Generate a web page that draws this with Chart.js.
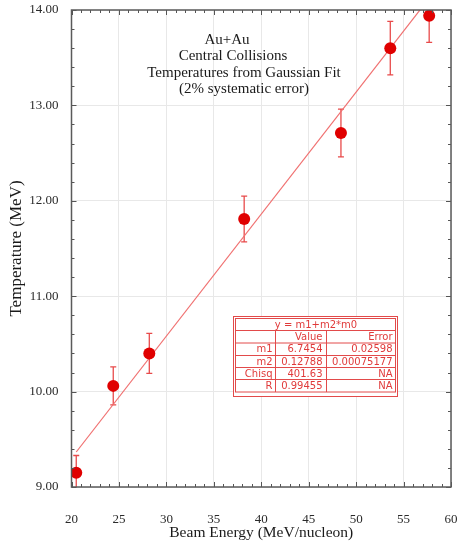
<!DOCTYPE html>
<html>
<head>
<meta charset="utf-8">
<script src="https://cdn.jsdelivr.net/npm/chart.js@4/dist/chart.umd.min.js"></script>
<style>
  html, body { margin: 0; padding: 0; background: #ffffff; }
  #wrap { width: 457px; height: 541px; }
</style>
</head>
<body>
<div id="wrap"><canvas id="c" width="457" height="541"></canvas></div>
<script>
// Measured temperatures for Au+Au central collisions
const energies = [20.5, 24.4, 28.2, 38.2, 48.4, 53.6, 57.7];
const temperatures = [9.15, 10.06, 10.40, 11.81, 12.71, 13.60, 13.94];
const tempErrors = [0.18, 0.20, 0.21, 0.24, 0.25, 0.28, 0.28];

// Linear fit y = m1 + m2*x
const fitM1 = 6.7454;
const fitM2 = 0.12788;
const fitHeader = ['', 'Value', 'Error'];
const fitNames = ['m1', 'm2', 'Chisq', 'R'];
const fitValues = ['6.7454', '0.12788', '401.63', '0.99455'];
const fitErrors = ['0.02598', '0.00075177', 'NA', 'NA'];

const titleLines = ['Au+Au', 'Central Collisions', 'Temperatures from Gaussian Fit', '(2% systematic error)'];

const xRange = [20, 60];
const yRange = [9, 14];

const SERIF = '"Liberation Serif", "Times New Roman", serif';
const SANS = '"DejaVu Sans", Verdana, sans-serif';

const fitLine = [energies[0], xRange[1]].map(x => ({ x: x, y: fitM1 + fitM2 * x }));
const points = energies.map((x, i) => ({ x: x, y: temperatures[i] }));

const errorBars = {
  id: 'errorBars',
  beforeDatasetsDraw(chart) {
    const { ctx, chartArea: a, scales: { x, y } } = chart;
    ctx.save();
    ctx.beginPath();
    ctx.rect(a.left, a.top, a.right - a.left, a.bottom - a.top);
    ctx.clip();
    ctx.strokeStyle = '#e84a4a';
    ctx.lineWidth = 1.3;
    energies.forEach((e, i) => {
      const px = x.getPixelForValue(e);
      const top = y.getPixelForValue(temperatures[i] + tempErrors[i]);
      const bot = y.getPixelForValue(temperatures[i] - tempErrors[i]);
      ctx.beginPath();
      ctx.moveTo(px, top); ctx.lineTo(px, bot);
      ctx.moveTo(px - 3, top); ctx.lineTo(px + 3, top);
      ctx.moveTo(px - 3, bot); ctx.lineTo(px + 3, bot);
      ctx.stroke();
    });
    ctx.restore();
  }
};

const frameAndText = {
  id: 'frameAndText',
  afterDraw(chart) {
    const { ctx, chartArea: a, scales: { x, y } } = chart;
    ctx.save();

    // inward tick marks on all four sides
    ctx.strokeStyle = '#555555';
    ctx.lineWidth = 1;
    ctx.beginPath();
    for (let v = xRange[0]; v <= xRange[1]; v += 1) {
      const px = Math.round(x.getPixelForValue(v)) + 0.5;
      const len = v % 5 === 0 ? 5 : 3;
      ctx.moveTo(px, a.bottom); ctx.lineTo(px, a.bottom - len);
      ctx.moveTo(px, a.top); ctx.lineTo(px, a.top + len);
    }
    for (let k = 0; k <= (yRange[1] - yRange[0]) * 5; k++) {
      const v = yRange[0] + k * 0.2;
      const py = Math.round(y.getPixelForValue(v)) + 0.5;
      const len = k % 5 === 0 ? 5 : 3;
      ctx.moveTo(a.left, py); ctx.lineTo(a.left + len, py);
      ctx.moveTo(a.right, py); ctx.lineTo(a.right - len, py);
    }
    ctx.stroke();

    // plot frame
    ctx.strokeStyle = '#5a5a5a';
    ctx.lineWidth = 1.5;
    ctx.strokeRect(a.left, a.top, a.right - a.left, a.bottom - a.top);

    // caption block
    ctx.fillStyle = '#1a1a1a';
    ctx.font = '15px ' + SERIF;
    ctx.textAlign = 'center';
    ctx.textBaseline = 'middle';
    const cx = [227, 233, 244, 244];
    titleLines.forEach((t, i) => ctx.fillText(t, cx[i], 40 + i * 16.3));

    // fit results table
    const L = 233.5, R = 397.5, T = 316.5, B = 396.5;
    ctx.fillStyle = '#ffffff';
    ctx.fillRect(L, T, R - L, B - T);
    ctx.strokeStyle = '#e24a4a';
    ctx.lineWidth = 1;
    ctx.strokeRect(L, T, R - L, B - T);
    const iL = L + 2, iR = R - 2, iT = T + 2, iB = B - 4.5;
    ctx.strokeRect(iL, iT, iR - iL, iB - iT);
    const rows = [330.5, 343, 355.5, 367.5, 379.5];
    const colA = 275.5, colB = 326.5;
    ctx.beginPath();
    rows.forEach(r => { ctx.moveTo(iL, r); ctx.lineTo(iR, r); });
    ctx.moveTo(colA, rows[0]); ctx.lineTo(colA, iB);
    ctx.moveTo(colB, rows[0]); ctx.lineTo(colB, iB);
    ctx.stroke();

    ctx.fillStyle = '#e03a3a';
    ctx.font = '10px ' + SANS;
    ctx.textAlign = 'center';
    ctx.fillText('y = m1+m2*m0', (iL + iR) / 2 + 0.5, (iT + rows[0]) / 2 + 0.5);
    ctx.textAlign = 'right';
    const bounds = rows.concat([iB]);
    const drawRow = (cells, r) => {
      const cy = (bounds[r] + bounds[r + 1]) / 2 + 0.5;
      ctx.fillText(cells[0], colA - 3, cy);
      ctx.fillText(cells[1], colB - 4, cy);
      ctx.fillText(cells[2], iR - 3, cy);
    };
    drawRow(fitHeader, 0);
    fitNames.forEach((n, i) => drawRow([n, fitValues[i], fitErrors[i]], i + 1));

    ctx.restore();
  }
};

new Chart(document.getElementById('c'), {
  type: 'scatter',
  data: {
    datasets: [
      {
        data: points,
        backgroundColor: '#e00000',
        borderColor: '#e00000',
        pointRadius: 6,
        pointHoverRadius: 6,
        borderWidth: 0,
        order: 1
      },
      {
        type: 'line',
        data: fitLine,
        borderColor: '#f07070',
        borderWidth: 1.2,
        pointRadius: 0,
        fill: false,
        clip: 0,
        order: 2
      }
    ]
  },
  options: {
    responsive: false,
    devicePixelRatio: 1,
    animation: false,
    events: [],
    layout: { padding: { top: 10, right: 6, left: 0, bottom: 0 } },
    plugins: { legend: { display: false }, tooltip: { enabled: false } },
    scales: {
      x: {
        type: 'linear',
        min: xRange[0],
        max: xRange[1],
        afterFit(s) { s.height = 54; s.paddingLeft = 0; s.paddingRight = 0; },
        grid: { color: '#e8e8e8', lineWidth: 1, drawTicks: false },
        border: { display: false },
        ticks: {
          stepSize: 5,
          autoSkip: false,
          maxRotation: 0,
          padding: 25,
          color: '#2a2a2a',
          font: { family: SERIF, size: 13 }
        },
        title: {
          display: true,
          text: 'Beam Energy (MeV/nucleon)',
          color: '#1a1a1a',
          font: { family: SERIF, size: 15.5, lineHeight: 1 },
          padding: { top: 0, bottom: 0.5 }
        }
      },
      y: {
        type: 'linear',
        min: yRange[0],
        max: yRange[1],
        afterFit(s) { s.width = 71.5; s.paddingTop = 0; s.paddingBottom = 0; },
        grid: { color: '#e8e8e8', lineWidth: 1, drawTicks: false },
        border: { display: false },
        ticks: {
          stepSize: 1,
          padding: 13,
          color: '#2a2a2a',
          font: { family: SERIF, size: 13 },
          callback: v => Number(v).toFixed(2)
        },
        title: {
          display: true,
          text: 'Temperature (MeV)',
          color: '#1a1a1a',
          font: { family: SERIF, size: 17, lineHeight: 1 },
          padding: { top: 8.5, bottom: 0 }
        }
      }
    }
  },
  plugins: [errorBars, frameAndText]
});
</script>
</body>
</html>
